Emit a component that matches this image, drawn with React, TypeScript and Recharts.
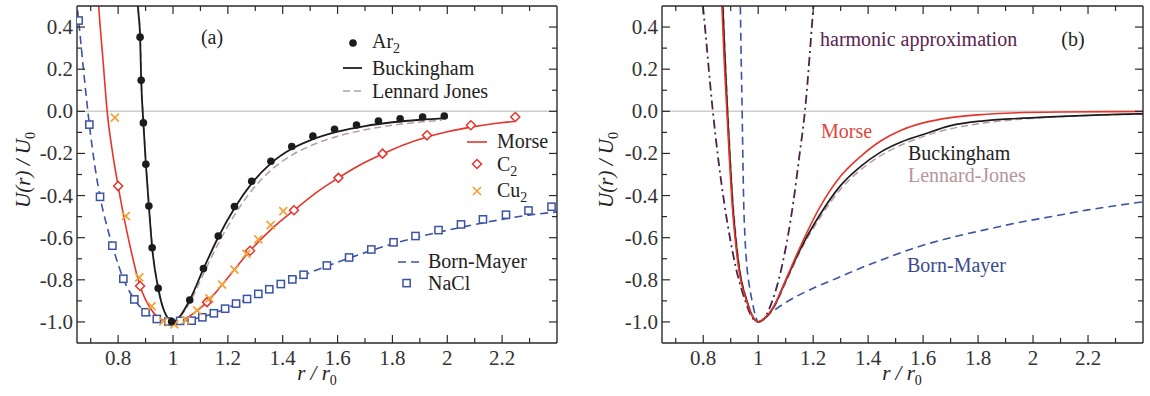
import React from 'react';
import { ComposedChart, Line, Scatter, XAxis, YAxis, ReferenceLine } from 'recharts';

type Pt = { x: number; y: number };
const toPts = (rows: number[][]): Pt[] => rows.map(([x, y]) => ({ x, y }));

// ---- panel (a): r/r0 vs U/U0, measured points ----
const ar2 = [
  [0.88, 0.352], [0.884, 0.147], [0.892, -0.055], [0.901, -0.251], [0.912, -0.45],
  [0.924, -0.648], [0.946, -0.84], [0.995, -0.998], [1.061, -0.896], [1.111, -0.746],
  [1.165, -0.592], [1.224, -0.452], [1.287, -0.332], [1.357, -0.237], [1.433, -0.167],
  [1.51, -0.118], [1.589, -0.085], [1.669, -0.065], [1.749, -0.046], [1.828, -0.035],
  [1.91, -0.027], [1.989, -0.022],
];
const c2 = [
  [0.8, -0.355], [0.88, -0.829], [1.124, -0.906], [1.281, -0.662], [1.441, -0.47],
  [1.603, -0.316], [1.764, -0.201], [1.926, -0.114], [2.086, -0.066], [2.248, -0.027],
];
const cu2 = [
  [0.788, -0.03], [0.828, -0.498], [0.877, -0.788], [0.922, -0.925], [0.965, -0.998],
  [1.005, -1.012], [1.046, -0.991], [1.088, -0.945], [1.133, -0.888], [1.179, -0.823],
  [1.224, -0.752], [1.268, -0.677], [1.311, -0.608], [1.356, -0.54], [1.402, -0.474],
];
const nacl = [
  [0.656, 0.431], [0.695, -0.063], [0.734, -0.406], [0.779, -0.638], [0.819, -0.795],
  [0.859, -0.893], [0.9, -0.954], [0.941, -0.986], [0.983, -0.998], [1.026, -0.995],
  [1.068, -0.994], [1.107, -0.978], [1.149, -0.959], [1.19, -0.937], [1.23, -0.913],
  [1.27, -0.891], [1.311, -0.867], [1.351, -0.845], [1.393, -0.82], [1.435, -0.798],
  [1.476, -0.776], [1.561, -0.732], [1.642, -0.694], [1.723, -0.656], [1.804, -0.622],
  [1.884, -0.592], [1.968, -0.564], [2.05, -0.537], [2.13, -0.513], [2.214, -0.491],
  [2.296, -0.471], [2.38, -0.453],
];

// ---- panel (a): fitted curves ----
const buckinghamA = [
  [0.868, 0.6], [0.872, 0.5], [0.88, 0.352], [0.884, 0.147], [0.892, -0.055],
  [0.901, -0.251], [0.912, -0.45], [0.924, -0.648], [0.946, -0.84], [0.97, -0.955],
  [1.0, -1.0], [1.03, -0.965], [1.061, -0.896], [1.111, -0.748], [1.165, -0.598],
  [1.224, -0.46], [1.287, -0.342], [1.357, -0.247], [1.433, -0.178], [1.5, -0.138],
  [1.6, -0.097], [1.7, -0.07], [1.8, -0.052], [1.9, -0.04], [2.0, -0.032],
];
const lennardJonesA = [
  [0.869, 0.6], [0.873, 0.5], [0.881, 0.35], [0.885, 0.15], [0.893, -0.055],
  [0.902, -0.25], [0.913, -0.45], [0.925, -0.648], [0.947, -0.84], [0.97, -0.955],
  [1.0, -1.0], [1.03, -0.97], [1.061, -0.908], [1.111, -0.772], [1.165, -0.628],
  [1.224, -0.493], [1.287, -0.376], [1.357, -0.28], [1.433, -0.208], [1.5, -0.165],
  [1.6, -0.118], [1.7, -0.088], [1.8, -0.066], [1.9, -0.051], [1.98, -0.042],
];
const morseA = [
  [0.724, 0.6], [0.729, 0.5], [0.745, 0.24], [0.76, 0.0], [0.78, -0.2], [0.8, -0.355],
  [0.84, -0.62], [0.88, -0.829], [0.92, -0.94], [0.96, -0.99], [1.0, -1.0],
  [1.04, -0.988], [1.08, -0.955], [1.124, -0.906], [1.2, -0.79], [1.281, -0.662],
  [1.36, -0.558], [1.441, -0.47], [1.52, -0.388], [1.603, -0.316], [1.68, -0.256],
  [1.764, -0.203], [1.84, -0.16], [1.926, -0.122], [2.0, -0.097], [2.086, -0.075],
  [2.16, -0.06], [2.245, -0.048],
];
const bornMayerA = [
  [0.652, 0.48], [0.656, 0.431], [0.675, 0.18], [0.695, -0.063], [0.714, -0.25],
  [0.734, -0.406], [0.756, -0.53], [0.779, -0.638], [0.819, -0.795], [0.859, -0.893],
  [0.9, -0.954], [0.941, -0.986], [0.983, -0.999], [1.0, -1.0], [1.026, -0.997],
  [1.068, -0.988], [1.107, -0.976], [1.149, -0.959], [1.19, -0.938], [1.23, -0.915],
  [1.27, -0.893], [1.311, -0.869], [1.351, -0.846], [1.393, -0.822], [1.435, -0.8],
  [1.476, -0.778], [1.561, -0.735], [1.642, -0.697], [1.723, -0.661], [1.804, -0.628],
  [1.884, -0.6], [1.968, -0.574], [2.05, -0.551], [2.13, -0.53], [2.214, -0.51],
  [2.296, -0.493], [2.4, -0.478],
];

// ---- panel (b): model curves ----
const harmonicB = [
  [0.785, 0.68], [0.799, 0.5], [0.835, 0.0], [0.856, -0.24], [0.877, -0.44],
  [0.9, -0.62], [0.92, -0.75], [0.953, -0.9], [0.976, -0.975], [1.0, -1.0],
  [1.025, -0.977], [1.05, -0.905], [1.086, -0.738], [1.107, -0.6], [1.128, -0.43],
  [1.148, -0.23], [1.17, 0.0], [1.201, 0.5], [1.212, 0.68],
];
const morseB = [
  [0.863, 0.65], [0.868, 0.5], [0.876, 0.25], [0.886, 0.0], [0.895, -0.22],
  [0.904, -0.42], [0.915, -0.59], [0.928, -0.738], [0.959, -0.905], [0.98, -0.975],
  [1.0, -1.0], [1.025, -0.98], [1.056, -0.927], [1.1, -0.8], [1.153, -0.643],
  [1.225, -0.454], [1.298, -0.311], [1.371, -0.216], [1.444, -0.142], [1.52, -0.09],
  [1.6, -0.055], [1.7, -0.03], [1.82, -0.015], [1.94, -0.007], [2.1, -0.003], [2.4, -0.001],
];
const buckinghamB = [
  [0.866, 0.65], [0.871, 0.5], [0.879, 0.25], [0.888, 0.0], [0.897, -0.22],
  [0.906, -0.42], [0.917, -0.59], [0.93, -0.738], [0.96, -0.905], [0.98, -0.975],
  [1.0, -1.0], [1.025, -0.982], [1.056, -0.93], [1.1, -0.805], [1.153, -0.655],
  [1.225, -0.49], [1.298, -0.355], [1.371, -0.264], [1.444, -0.195], [1.52, -0.146],
  [1.6, -0.11], [1.7, -0.068], [1.82, -0.045], [1.94, -0.034], [2.06, -0.026],
  [2.2, -0.019], [2.305, -0.015], [2.4, -0.012],
];
const lennardJonesB = [
  [0.868, 0.65], [0.873, 0.5], [0.881, 0.25], [0.89, 0.0], [0.899, -0.22],
  [0.908, -0.42], [0.919, -0.59], [0.932, -0.738], [0.961, -0.905], [0.981, -0.975],
  [1.0, -1.0], [1.025, -0.984], [1.056, -0.935], [1.1, -0.815], [1.153, -0.665],
  [1.225, -0.505], [1.298, -0.372], [1.371, -0.28], [1.444, -0.212], [1.52, -0.16],
  [1.6, -0.12], [1.7, -0.083], [1.82, -0.056], [1.94, -0.039], [2.06, -0.028],
  [2.2, -0.02], [2.305, -0.016], [2.4, -0.013],
];
const bornMayerB = [
  [0.933, 0.62], [0.935, 0.5], [0.938, 0.25], [0.941, 0.05], [0.944, -0.2],
  [0.947, -0.42], [0.952, -0.6], [0.959, -0.738], [0.968, -0.83], [0.977, -0.896],
  [0.99, -0.97], [1.0, -1.0], [1.03, -0.972], [1.06, -0.943], [1.1, -0.908],
  [1.2, -0.84], [1.3, -0.785], [1.371, -0.745], [1.45, -0.705], [1.577, -0.645],
  [1.7, -0.6], [1.82, -0.564], [1.94, -0.53], [2.062, -0.501], [2.2, -0.468],
  [2.3, -0.448], [2.4, -0.43],
];

const xTicks = [0.7, 0.8, 0.9, 1.0, 1.1, 1.2, 1.3, 1.4, 1.5, 1.6, 1.7, 1.8, 1.9, 2.0, 2.1, 2.2, 2.3];
const yTicks = [-1.0, -0.9, -0.8, -0.7, -0.6, -0.5, -0.4, -0.3, -0.2, -0.1, 0.0, 0.1, 0.2, 0.3, 0.4];
const xDomain = [0.65, 2.4];
const yDomain = [-1.1, 0.5];

const SERIF = '"Liberation Serif", "DejaVu Serif", serif';
const FRAME = '#2a2a2a';
const BLACK = '#1c1c1c';
const LJ = '#b79ca6';
const RED = '#e5352b';
const ORANGE = '#f2a23a';
const BLUE = '#3b53a4';
const PURPLE = '#4c2347';

const isMajor = (v: number) => Math.round(v * 10) % 2 === 0;
const fmtX = (v: number) => (Math.abs(v - Math.round(v)) < 1e-9 ? String(Math.round(v)) : v.toFixed(1));
const fmtY = (v: number) => v.toFixed(1);
const tickText = { fontFamily: SERIF, fontSize: 21, fill: '#333' };

// axes are 1px thick, so tick props arrive 1px off the frame line
const BottomTick = ({ x, y, payload }: any) => {
  const v = payload.value;
  const major = isMajor(v);
  return (
    <g>
      <line x1={x} x2={x} y1={y} y2={y - (major ? 8 : 5)} stroke={FRAME} strokeWidth={1.2} />
      {major && (
        <text x={x} y={y + 22} textAnchor="middle" {...tickText}>
          {fmtX(v)}
        </text>
      )}
    </g>
  );
};
const TopTick = ({ x, y, payload }: any) => (
  <line x1={x} x2={x} y1={y} y2={y + (isMajor(payload.value) ? 8 : 5)} stroke={FRAME} strokeWidth={1.2} />
);
const LeftTick = ({ x, y, payload }: any) => {
  const v = payload.value;
  const major = isMajor(v);
  return (
    <g>
      <line x1={x} x2={x + (major ? 8 : 5)} y1={y} y2={y} stroke={FRAME} strokeWidth={1.2} />
      {major && (
        <text x={x - 4} y={y + 7} textAnchor="end" {...tickText}>
          {fmtY(v)}
        </text>
      )}
    </g>
  );
};
const RightTick = ({ x, y, payload }: any) => (
  <line x1={x} x2={x - (isMajor(payload.value) ? 8 : 5)} y1={y} y2={y} stroke={FRAME} strokeWidth={1.2} />
);

// marker shapes
const FilledDot = ({ cx, cy }: any) => <circle cx={cx} cy={cy} r={3.8} fill={BLACK} />;
const OpenDiamond = ({ cx, cy }: any) => (
  <path d={`M${cx},${cy - 4.5}L${cx + 4.5},${cy}L${cx},${cy + 4.5}L${cx - 4.5},${cy}Z`} fill="#fff" stroke={RED} strokeWidth={1.5} />
);
const Cross = ({ cx, cy }: any) => (
  <path d={`M${cx - 4},${cy - 4}L${cx + 4},${cy + 4}M${cx - 4},${cy + 4}L${cx + 4},${cy - 4}`} stroke={ORANGE} strokeWidth={1.7} />
);
const OpenSquare = ({ cx, cy }: any) => (
  <rect x={cx - 3.6} y={cy - 3.6} width={7.2} height={7.2} fill="#fff" stroke={BLUE} strokeWidth={1.5} />
);

const axisLine = { stroke: FRAME, strokeWidth: 1.4 };

const frame = () => [
  <ReferenceLine key="zero" y={0} stroke="#cdcdcd" strokeWidth={1.5} />,
  <XAxis key="xb" type="number" dataKey="x" domain={xDomain} allowDataOverflow ticks={xTicks} interval={0}
    height={1} tickLine={false} tickSize={0} tickMargin={0} tick={(p: any) => <BottomTick {...p} />}
    axisLine={axisLine} />,
  <XAxis key="xt" xAxisId="top" orientation="top" type="number" dataKey="x" domain={xDomain} allowDataOverflow
    ticks={xTicks} interval={0} height={1} tickLine={false} tickSize={0} tickMargin={0}
    tick={(p: any) => <TopTick {...p} />} axisLine={axisLine} />,
];

function yAxes(width: number) {
  return [
    <YAxis key="yl" type="number" dataKey="y" domain={yDomain} allowDataOverflow ticks={yTicks} interval={0}
      width={width} tickLine={false} tickSize={0} tickMargin={0} tick={(p: any) => <LeftTick {...p} />}
      axisLine={axisLine} />,
    <YAxis key="yr" yAxisId="right" orientation="right" type="number" dataKey="y" domain={yDomain} allowDataOverflow
      ticks={yTicks} interval={0} width={1} tickLine={false} tickSize={0} tickMargin={0}
      tick={(p: any) => <RightTick {...p} />} axisLine={axisLine} />,
  ];
}

const lineProps = { type: 'monotone' as const, dataKey: 'y', dot: false, activeDot: false, isAnimationActive: false };

function PanelA() {
  return (
    <ComposedChart width={575} height={396} margin={{ top: 5, right: 17, bottom: 52, left: 0 }}>
      {frame()}
      {yAxes(77)}
      <Line {...lineProps} data={toPts(bornMayerA)} stroke={BLUE} strokeWidth={1.6} strokeDasharray="8 5" />
      <Line {...lineProps} data={toPts(morseA)} stroke={RED} strokeWidth={1.6} />
      <Line {...lineProps} data={toPts(lennardJonesA)} stroke={LJ} strokeWidth={1.5} strokeDasharray="7 4" />
      <Line {...lineProps} data={toPts(buckinghamA)} stroke={BLACK} strokeWidth={1.8} />
      <Scatter data={toPts(nacl)} shape={<OpenSquare />} isAnimationActive={false} />
      <Scatter data={toPts(c2)} shape={<OpenDiamond />} isAnimationActive={false} />
      <Scatter data={toPts(cu2)} shape={<Cross />} isAnimationActive={false} />
      <Scatter data={toPts(ar2)} shape={<FilledDot />} isAnimationActive={false} />
    </ComposedChart>
  );
}

function PanelB() {
  return (
    <ComposedChart width={575} height={396} margin={{ top: 5, right: 6, bottom: 52, left: 0 }}>
      {frame()}
      {yAxes(87)}
      <Line {...lineProps} data={toPts(harmonicB)} stroke={PURPLE} strokeWidth={1.8} strokeDasharray="9 4 2 4" />
      <Line {...lineProps} data={toPts(bornMayerB)} stroke={BLUE} strokeWidth={1.6} strokeDasharray="8 5" />
      <Line {...lineProps} data={toPts(lennardJonesB)} stroke={LJ} strokeWidth={1.5} strokeDasharray="7 4" />
      <Line {...lineProps} data={toPts(buckinghamB)} stroke={BLACK} strokeWidth={1.7} />
      <Line {...lineProps} data={toPts(morseB)} stroke={RED} strokeWidth={1.6} />
    </ComposedChart>
  );
}

const label = { fontFamily: SERIF, fontSize: 20, fill: '#222' };
const sub = { fontSize: 14, dy: 5 };

function AxisTitles({ yx, xc }: { yx: number; xc: number }) {
  return (
    <g>
      <text transform={`translate(${yx},170) rotate(-90)`} textAnchor="middle" {...label} fontSize={21} fontStyle="italic">
        U(r) / U<tspan {...sub} fontStyle="normal">0</tspan>
      </text>
      <text x={xc} y={380} textAnchor="middle" {...label} fontSize={21} fontStyle="italic">
        r / r<tspan {...sub} fontStyle="normal">0</tspan>
      </text>
    </g>
  );
}

function Annotations() {
  return (
    <svg width={1150} height={396} style={{ position: 'absolute', left: 0, top: 0, pointerEvents: 'none' }}>
      <AxisTitles yx={30} xc={317} />
      <AxisTitles yx={613} xc={902} />

      {/* panel (a) legend */}
      <text x={212} y={44} textAnchor="middle" {...label}>(a)</text>
      <circle cx={353} cy={43} r={3.8} fill={BLACK} />
      <text x={372} y={48} {...label}>Ar<tspan {...sub}>2</tspan></text>
      <line x1={343} x2={362} y1={68} y2={68} stroke={BLACK} strokeWidth={1.8} />
      <text x={372} y={75} {...label}>Buckingham</text>
      <line x1={343} x2={362} y1={91} y2={91} stroke={LJ} strokeWidth={1.5} strokeDasharray="7 4" />
      <text x={372} y={98} {...label}>Lennard Jones</text>
      <line x1={467} x2={487} y1={142} y2={142} stroke={RED} strokeWidth={1.6} />
      <text x={497} y={148} {...label}>Morse</text>
      <path d="M477,159.5L481.5,164L477,168.5L472.5,164Z" fill="#fff" stroke={RED} strokeWidth={1.5} />
      <text x={497} y={171} {...label}>C<tspan {...sub}>2</tspan></text>
      <path d="M473,187L481,195M473,195L481,187" stroke={ORANGE} strokeWidth={1.7} />
      <text x={497} y={197} {...label}>Cu<tspan {...sub}>2</tspan></text>
      <line x1={398} x2={422} y1={262} y2={262} stroke={BLUE} strokeWidth={1.6} strokeDasharray="8 5" />
      <text x={428} y={268} {...label}>Born-Mayer</text>
      <rect x={403} y={279.5} width={7.2} height={7.2} fill="#fff" stroke={BLUE} strokeWidth={1.5} />
      <text x={428} y={290} {...label}>NaCl</text>

      {/* panel (b) curve names */}
      <text x={820} y={46} {...label} fill="#5a2350">harmonic approximation</text>
      <text x={1073} y={46} textAnchor="middle" {...label}>(b)</text>
      <text x={821} y={138} {...label} fill="#e0453a">Morse</text>
      <text x={908} y={160} {...label}>Buckingham</text>
      <text x={908} y={182} {...label} fill="#b8949c">Lennard-Jones</text>
      <text x={907} y={272} {...label} fill="#3b4a8c">Born-Mayer</text>
    </svg>
  );
}

export default function App() {
  return (
    <div style={{ position: 'absolute', left: 0, top: 0, width: 1150, height: 396, background: '#fff' }}>
      <div style={{ position: 'absolute', left: 0, top: 0 }}>
        <PanelA />
      </div>
      <div style={{ position: 'absolute', left: 575, top: 0 }}>
        <PanelB />
      </div>
      <Annotations />
    </div>
  );
}
